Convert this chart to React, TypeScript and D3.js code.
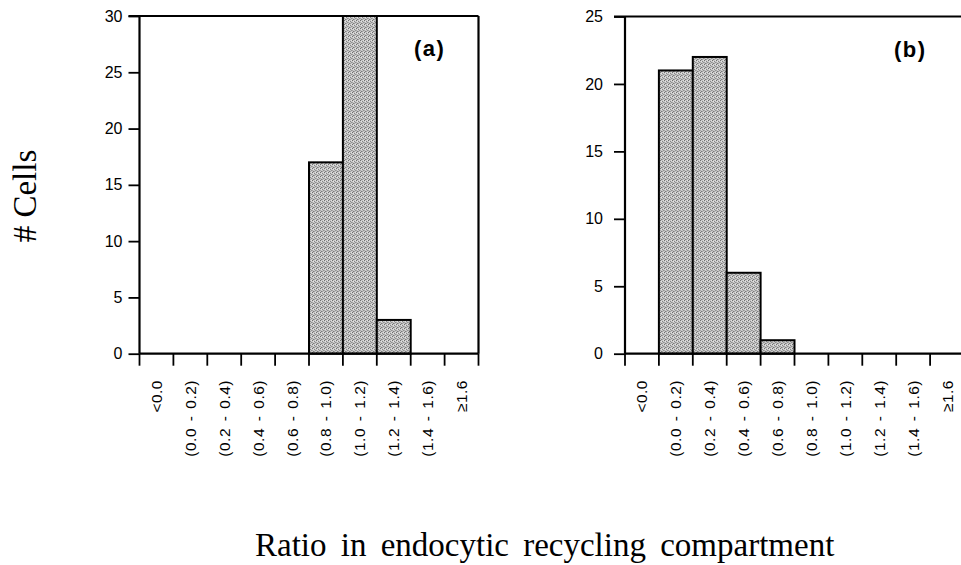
import React, { useEffect, useRef } from 'react';
import * as d3 from 'd3';

// bins on the x axis (ratio classes)
const bins = ['<0.0', '(0.0 - 0.2)', '(0.2 - 0.4)', '(0.4 - 0.6)', '(0.6 - 0.8)', '(0.8 - 1.0)', '(1.0 - 1.2)', '(1.2 - 1.4)', '(1.4 - 1.6)', '≥1.6'];

// number of cells per bin
const countsA = [0, 0, 0, 0, 0, 17, 30, 3, 0, 0];
const countsB = [0, 21, 22, 6, 1, 0, 0, 0, 0, 0];

const ticksA = [0, 5, 10, 15, 20, 25, 30];
const ticksB = [0, 5, 10, 15, 20, 25];

const panelLabels = ['(a)', '(b)'];

const yLabel = '# Cells';
const xLabel = 'Ratio in endocytic recycling compartment';

const W = 961;
const H = 565;
const sans = 'Liberation Sans, Arial, Helvetica, sans-serif';

export default function App() {
    const ref = useRef<SVGSVGElement>(null);

    useEffect(() => {
        const svg = d3.select(ref.current);
        svg.selectAll('*').remove();

        // halftone-like fill for the bars
        const pat = svg.append('defs').append('pattern')
            .attr('id', 'dots')
            .attr('width', 4)
            .attr('height', 4)
            .attr('patternUnits', 'userSpaceOnUse');
        pat.append('rect').attr('width', 4).attr('height', 4).attr('fill', '#c9c9c9');
        [[0, 0, '#6f6f6f'], [2, 1, '#858585'], [1, 3, '#7c7c7c'], [3, 2, '#909090'], [0, 2, '#a6a6a6'], [2, 3, '#a0a0a0'], [1, 1, '#e2e2e2'], [3, 0, '#dedede']].forEach(([px, py, c]) => {
            pat.append('rect').attr('x', px).attr('y', py).attr('width', 1).attr('height', 1).attr('fill', c as string);
        });

        const panels = [
            { counts: countsA, ticks: ticksA, max: 30, left: 139.5, top: 16, pad: 6, label: panelLabels[0], lx: 414, ly: 56 },
            { counts: countsB, ticks: ticksB, max: 25, left: 625, top: 16.5, pad: 11, label: panelLabels[1], lx: 894, ly: 57 },
        ];
        const bottom = 353.7;
        const bandW = 33.9;

        panels.forEach(p => {
            const right = p.left + bandW * bins.length;
            const x = d3.scaleBand<string>().domain(bins).range([p.left, right]).paddingInner(0).paddingOuter(0);
            const y = d3.scaleLinear().domain([0, p.max]).range([bottom, p.top]);
            const g = svg.append('g');

            // bars
            g.selectAll('rect.bar')
                .data(p.counts.map((v, i) => ({ bin: bins[i], v })).filter(d => d.v > 0))
                .enter()
                .append('rect')
                .attr('class', 'bar')
                .attr('x', d => x(d.bin) as number)
                .attr('y', d => y(d.v))
                .attr('width', x.bandwidth())
                .attr('height', d => bottom - y(d.v))
                .attr('fill', 'url(#dots)')
                .attr('stroke', '#000')
                .attr('stroke-width', 2);

            // y axis
            const yAxis = d3.axisLeft(y).tickValues(p.ticks).tickSize(11).tickPadding(p.pad).tickFormat(d3.format('d'));
            const ya = g.append('g').attr('transform', `translate(${p.left},0)`).call(yAxis);
            ya.select('.domain').remove();
            ya.selectAll('line').attr('stroke', '#000').attr('stroke-width', 1.8);
            ya.selectAll('text').attr('font-family', sans).attr('font-size', 16).attr('fill', '#000');

            // x axis ticks at the bin edges
            const edges = bins.map(b => x(b) as number).concat([right]);
            g.selectAll('line.xt')
                .data(edges)
                .enter()
                .append('line')
                .attr('x1', d => d).attr('x2', d => d)
                .attr('y1', bottom).attr('y2', bottom + 12)
                .attr('stroke', '#000').attr('stroke-width', 1.8);

            g.selectAll('text.xl')
                .data(bins)
                .enter()
                .append('text')
                .attr('transform', d => `translate(${(x(d) as number) + x.bandwidth() / 2},380) rotate(-90)`)
                .attr('text-anchor', 'end')
                .attr('dominant-baseline', 'central')
                .attr('font-family', sans)
                .attr('font-size', 15.5)
                .attr('letter-spacing', 0.5)
                .attr('word-spacing', 2)
                .text(d => d);

            // frame
            const frame = g.append('g').attr('stroke', '#000').attr('stroke-width', 2.2).attr('fill', 'none');
            frame.append('line').attr('x1', p.left).attr('x2', p.left).attr('y1', p.top).attr('y2', bottom);
            frame.append('line').attr('x1', p.left - 11).attr('x2', right).attr('y1', p.top).attr('y2', p.top);
            frame.append('line').attr('x1', right).attr('x2', right).attr('y1', p.top).attr('y2', bottom);
            frame.append('line').attr('x1', p.left).attr('x2', right).attr('y1', bottom).attr('y2', bottom);

            g.append('text')
                .attr('x', p.lx)
                .attr('y', p.ly)
                .attr('font-family', sans)
                .attr('font-weight', 'bold')
                .attr('font-size', 22)
                .attr('letter-spacing', 1.5)
                .text(p.label);
        });

        svg.append('text')
            .attr('transform', 'translate(36,196) rotate(-90)')
            .attr('text-anchor', 'middle')
            .attr('font-family', 'Liberation Serif, Times New Roman, serif')
            .attr('font-size', 33)
            .text(yLabel);

        svg.append('text')
            .attr('x', 255)
            .attr('y', 556)
            .attr('font-family', 'Liberation Serif, Times New Roman, serif')
            .attr('font-size', 33)
            .attr('word-spacing', 6)
            .text(xLabel);
    }, []);

    return (
        <div style={{ position: 'absolute', left: 0, top: 0, width: W, height: H, background: '#fff' }}>
            <svg ref={ref} width={W} height={H} style={{ display: 'block' }} />
        </div>
    );
}
